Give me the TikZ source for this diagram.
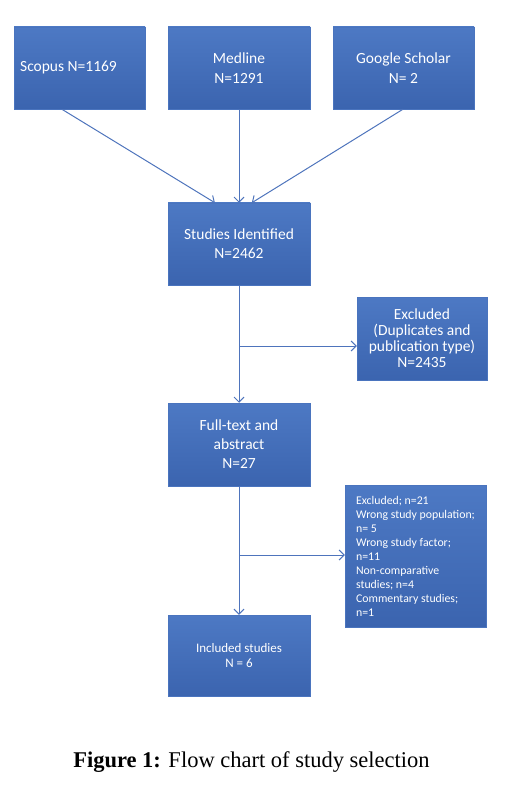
\documentclass[tikz,border=0pt]{standalone}
\usepackage{fontspec}
\setmainfont{Liberation Serif}
\newfontfamily\calfont{Carlito}
\usetikzlibrary{arrows.meta,calc}
\definecolor{boxtop}{HTML}{4D79C4}
\definecolor{boxbot}{HTML}{3B64AF}
\definecolor{boxline}{HTML}{4A74BE}
\definecolor{arrcol}{HTML}{4E74BC}
\begin{document}
\begin{tikzpicture}[x=1pt,y=-1pt,
  flowbox/.style={rectangle, top color=boxtop, bottom color=boxbot, draw=boxline, line width=0.5pt,
    text=white, align=center, inner sep=0pt, font=\calfont\fontsize{15.5}{20}\selectfont},
  arr/.style={draw=arrcol, line width=1pt, -{Straight Barb[length=5pt,width=10pt,line width=1pt]}}]
\useasboundingbox (0,0) rectangle (507,786);
\node[flowbox, minimum width=131pt, minimum height=82pt] (scopus) at (79.5,68) {\hspace*{-22pt}Scopus N=1169};
\node[flowbox, minimum width=142pt, minimum height=82pt] (medline) at (239,68) {Medline\\N=1291};
\node[flowbox, minimum width=141pt, minimum height=82pt] (google) at (403.5,68) {Google Scholar\\N= 2};
\node[flowbox, minimum width=142pt, minimum height=82pt, font=\calfont\fontsize{15.5}{19}\selectfont] (studies) at (239,244) {Studies Identified\\N=2462};
\node[flowbox, minimum width=130pt, minimum height=83pt, font=\calfont\fontsize{15.5}{16}\selectfont] (excl1) at (422,338.5) {Excluded\\(Duplicates and\\publication type)\\N=2435};
\node[flowbox, minimum width=142pt, minimum height=83pt, font=\calfont\fontsize{15.5}{19}\selectfont] (full) at (239,444.5) {Full-text and\\abstract\\N=27};
\node[flowbox, minimum width=141pt, minimum height=142pt, align=left, font=\calfont\fontsize{11.8}{14}\selectfont] (excl2) at (415.5,556) {Excluded; n=21\\Wrong study population;\\n= 5\\Wrong study factor;\\n=11\\Non-comparative\\studies; n=4\\Commentary studies;\\n=1};
\node[flowbox, minimum width=142pt, minimum height=81pt, font=\calfont\fontsize{13}{15}\selectfont] (incl) at (239,655.5) {Included studies\\N = 6};
\draw[arr] ($(scopus.south west)!0.366!(scopus.south east)$) -- ($(studies.north west)!0.331!(studies.north east)$);
\draw[arr] (medline.south) -- (studies.north);
\draw[arr] ($(google.south west)!0.496!(google.south east)$) -- ($(studies.north west)!0.59!(studies.north east)$);
\draw[arr] (studies.south) -- (full.north);
\coordinate (b1) at (239,346);
\draw[arr] (b1) -- (b1 -| excl1.west);
\draw[arr] (full.south) -- (incl.north);
\coordinate (b2) at (239,555);
\draw[arr] (b2) -- (b2 -| excl2.west);
\node[font=\fontsize{22.5}{26}\selectfont, anchor=base, inner sep=0pt] (cap) at (251.5,767) {\textbf{Figure 1:} Flow chart of study selection};
\end{tikzpicture}
\end{document}
